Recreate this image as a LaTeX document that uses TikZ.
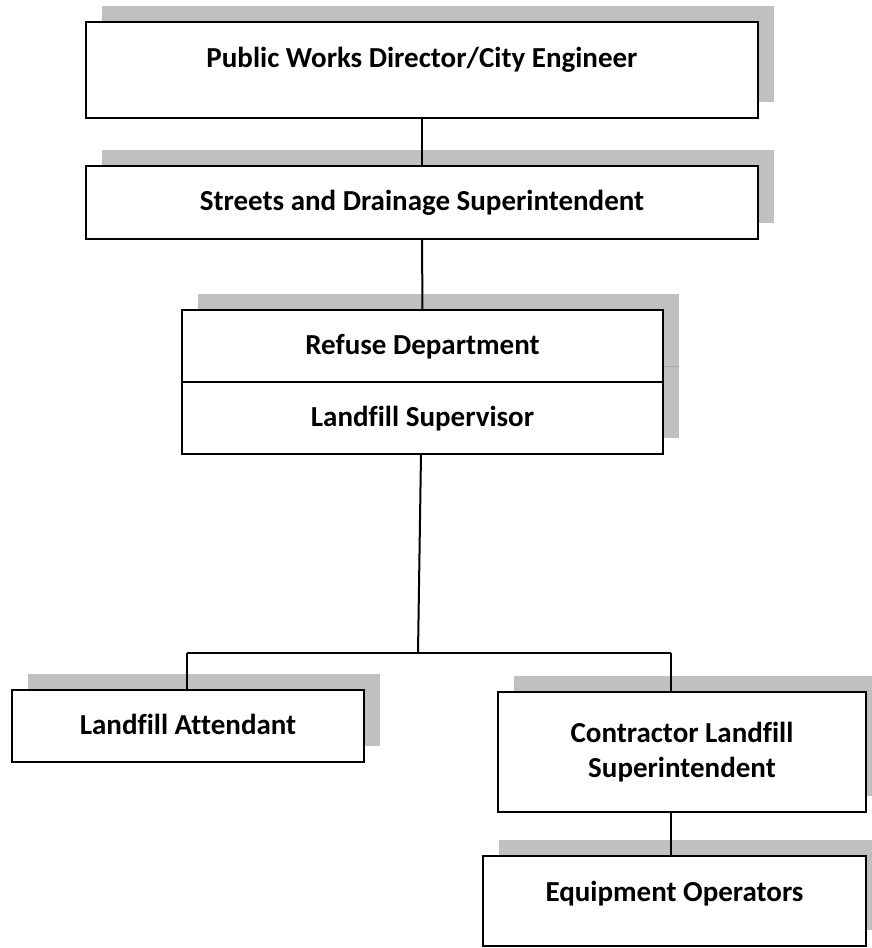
\documentclass[tikz,border=0pt]{standalone}
\usepackage{fontspec}
\setmainfont{Carlito}[Ligatures=CommonOff]
\usetikzlibrary{backgrounds}
\definecolor{shadowgray}{RGB}{192,192,192}
\definecolor{seamgray}{RGB}{170,170,170}
\begin{document}
\begin{tikzpicture}[x=1pt,y=-1pt,
  orgbox/.style={draw=black, line width=2pt, fill=white, rectangle,
                 inner sep=0pt, outer sep=0pt},
  orgtext/.style={font=\fontsize{29}{35}\selectfont\bfseries,
                  inner sep=0pt, anchor=base},
  link/.style={draw=black, line width=2pt},
  shadowfill/.style={fill=shadowgray}]
\useasboundingbox (0,0) rectangle (871,948);

% boxes
\node[orgbox, minimum width=672pt, minimum height=96pt] (pw) at (422,70) {};
\node[orgbox, minimum width=672pt, minimum height=73pt] (sd) at (422,202.5) {};
\node[orgbox, minimum width=481pt, minimum height=72pt] (rd) at (422.5,346) {};
\node[orgbox, minimum width=481pt, minimum height=72pt] (ls) at (422.5,418) {};
\node[orgbox, minimum width=352pt, minimum height=72pt] (la) at (188,726) {};
\node[orgbox, minimum width=368pt, minimum height=120pt] (cs) at (682,752) {};
\node[orgbox, minimum width=383pt, minimum height=90pt] (eo) at (674.5,901) {};

% offset shadows behind the boxes
\begin{pgfonlayer}{background}
  \foreach \n in {pw,sd,rd,ls,la,cs,eo}
    \fill[shadowfill] ([shift={(16,-16)}]\n.south west) rectangle ([shift={(16,-16)}]\n.north east);
  \draw[seamgray, line width=1pt] ([shift={(1,-16)}]rd.south east) -- ([shift={(16,-16)}]rd.south east);
\end{pgfonlayer}

% labels
\node[orgtext] (pwt) at (422,67) {Public Works Director/City Engineer};
\node[orgtext] (sdt) at (422,210) {Streets and Drainage Superintendent};
\node[orgtext] (rdt) at (422.5,354) {Refuse Department};
\node[orgtext] (lst) at (422.5,426) {Landfill Supervisor};
\node[orgtext] (lat) at (188,734) {Landfill Attendant};
\node[orgtext] (cst1) at (682,742) {Contractor Landfill};
\node[orgtext] (cst2) at (682,777) {Superintendent};
\node[orgtext] (eot) at (674.5,901) {Equipment Operators};

% connectors
\coordinate (hub) at (418,653);
\coordinate (hl) at (187,653);
\coordinate (hr) at (671,653);
\draw[link] (pw.south) -- (sd.north);
\draw[link] (sd.south) -- (rd.north);
\draw[link] ([xshift=-1.5pt]ls.south) -- (hub);
\draw[link] (hl) -- (hr);
\draw[link] (hl) -- (hl |- la.north);
\draw[link] (hr) -- (hr |- cs.north);
\draw[link] (hr |- cs.south) -- (hr |- eo.north);
\end{tikzpicture}
\end{document}
